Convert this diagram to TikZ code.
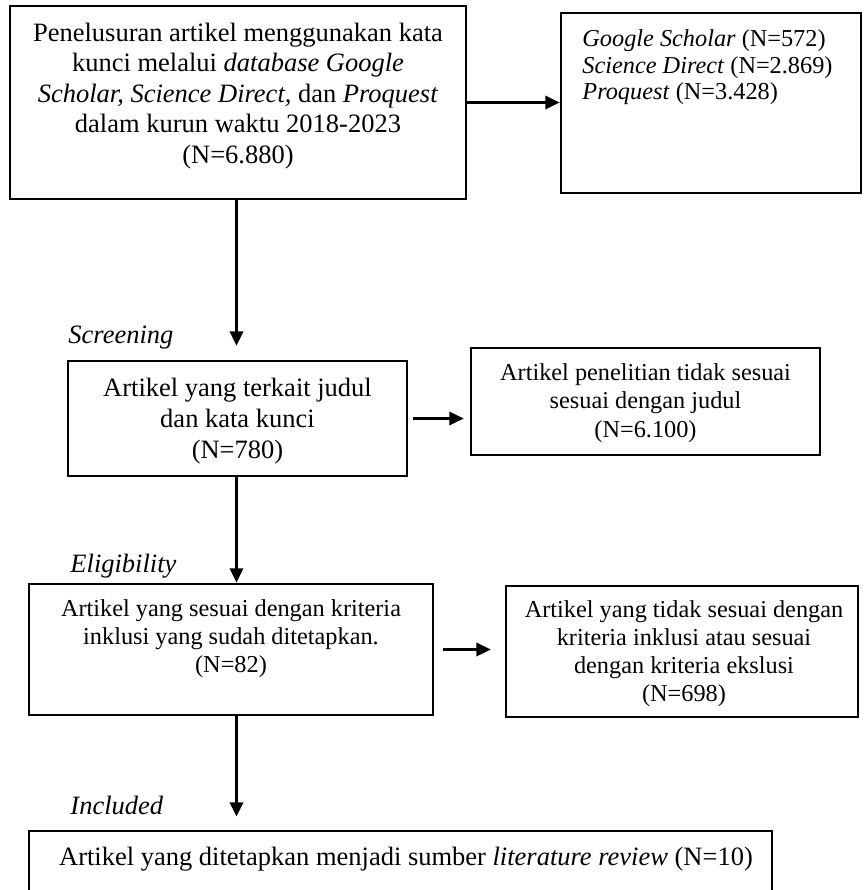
\documentclass[tikz,border=0pt]{standalone}
\usepackage{fontspec}
\setmainfont{Liberation Serif}
\usetikzlibrary{arrows.meta,calc,fit}

\tikzset{
  frame/.style={draw,line width=1.2pt,inner sep=0pt},
  txt/.style={inner sep=0pt,align=center,font=\fontsize{12}{13.8}\selectfont},
  txtsmall/.style={inner sep=0pt,align=center,font=\fontsize{11}{12.7}\selectfont},
  phase/.style={inner sep=0pt,anchor=base west,font=\fontsize{12}{14}\selectfont\itshape},
  arr/.style={line width=1.2pt,-{Triangle[length=6.5pt,width=6pt]}}
}

\begin{document}
\begin{tikzpicture}[x=0.4528pt,y=-0.4528pt]
\useasboundingbox (0,0) rectangle (863,890);
\clip (0,0) rectangle (863,890);

\coordinate (spine) at (236.5,0);

\node[frame,fit={(10,6) (466,199)}] (search) {};
\node[frame,fit={(561,13) (861,193)}] (sources) {};
\node[frame,fit={(68,361) (407,476)}] (screen) {};
\node[frame,fit={(471,348) (820,455)}] (excl1) {};
\node[frame,fit={(29,584) (433,715)}] (elig) {};
\node[frame,fit={(506,586) (858,717)}] (excl2) {};
\node[frame,fit={(29,831) (772,905)}] (incl) {};

\node[txt] (search-t) at (238,96) {Penelusuran artikel menggunakan kata\\
  kunci melalui \textit{database Google}\\
  \textit{Scholar, Science Direct,} dan \textit{Proquest}\\
  dalam kurun waktu 2018-2023\\ (N=6.880)};
\node[txt,align=left,anchor=north west,font=\fontsize{11}{12.1}\selectfont] (sources-t) at (582,29)
  {\textit{Google Scholar} (N=572)\\ \textit{Science Direct} (N=2.869)\\ \textit{Proquest} (N=3.428)};
\node[txt,font=\fontsize{12}{14}\selectfont] (screen-t) at (237.5,421)
  {Artikel yang terkait judul\\ dan kata kunci\\ (N=780)};
\node[txtsmall,font=\fontsize{11}{12.9}\selectfont] (excl1-t) at (645.5,403)
  {Artikel penelitian tidak sesuai\\ sesuai dengan judul\\ (N=6.100)};
\node[txtsmall] (elig-t) at (231,639)
  {Artikel yang sesuai dengan kriteria\\ inklusi yang sudah ditetapkan.\\ (N=82)};
\node[txtsmall] (excl2-t) at (684,654)
  {Artikel yang tidak sesuai dengan\\ kriteria inklusi atau sesuai\\ dengan kriteria ekslusi\\ (N=698)};
\node[txt] (incl-t) at (406,859)
  {Artikel yang ditetapkan menjadi sumber \textit{literature review} (N=10)};

\node[phase] (lbl-screen) at (68,343) {Screening};
\node[phase] (lbl-elig) at (70,572) {Eligibility};
\node[phase] (lbl-incl) at (70,814) {Included};

\draw[arr] (search.east) -- (search.east -| sources.west);
\draw[arr,shorten >=6.3pt] (search.south -| spine) -- (screen.north -| spine);
\draw[arr,shorten <=2.3pt,shorten >=2.7pt] (screen.east) -- (screen.east -| excl1.west);
\draw[arr] (screen.south -| spine) -- (elig.north -| spine);
\draw[arr,shorten <=4pt,shorten >=6.3pt] (elig.east) -- (elig.east -| excl2.west);
\draw[arr,shorten >=5.9pt] (elig.south -| spine) -- (incl.north -| spine);

\end{tikzpicture}
\end{document}
